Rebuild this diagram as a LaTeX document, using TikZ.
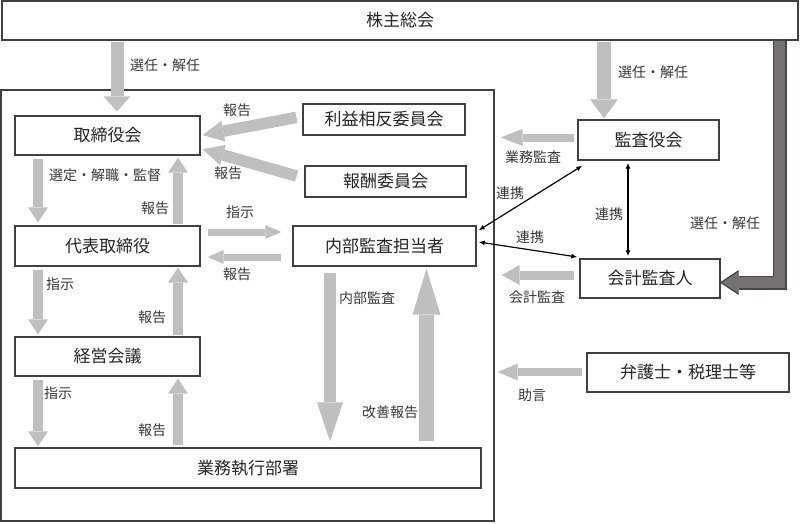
\documentclass[tikz,border=0pt]{standalone}
\usepackage{fontspec}
\setmainfont{Noto Sans CJK JP}
\usetikzlibrary{arrows.meta,calc}
\definecolor{arrg}{HTML}{BFBFBF}
\definecolor{bord}{HTML}{404040}
\definecolor{darkarr}{HTML}{767171}
\definecolor{darkline}{HTML}{4A4646}
\tikzset{
  box/.style={draw=bord, line width=1.4pt, fill=white, inner sep=0pt, font=\fontsize{17}{20}\selectfont, text=black!85},
  lbl/.style={font=\fontsize{14}{16}\selectfont, text=black!78, inner sep=0pt},
  blk/.style n args={3}{arrg, line width=#1, -{Triangle[length=#2, width=#3, line width=0pt]}},
  dbl/.style={black, line width=1.2pt, {Latex[length=6pt,width=5pt]}-{Latex[length=6pt,width=5pt]}}
}
\begin{document}
\begin{tikzpicture}[x=1pt,y=-1pt]
\useasboundingbox (0,0) rectangle (800,523);
% outer organisation box
\node[draw=bord, line width=1.4pt, minimum width=493pt, minimum height=431pt, inner sep=0pt] (org) at (247.5,305.5) {};
% boxes
\node[box, minimum width=796pt, minimum height=39pt] (sh) at (400,20.5) {株主総会};
\node[box, minimum width=185pt, minimum height=39pt] (tb) at (107.5,135.5) {取締役会};
\node[box, minimum width=162pt, minimum height=31pt] (rieki) at (384,119.5) {利益相反委員会};
\node[box, minimum width=161pt, minimum height=31pt] (hoshu) at (385.5,181.5) {報酬委員会};
\node[box, minimum width=185pt, minimum height=40pt] (daihyo) at (107.5,246) {代表取締役};
\node[box, minimum width=183pt, minimum height=40pt] (naibu) at (384.5,246) {内部監査担当者};
\node[box, minimum width=185pt, minimum height=39pt] (keiei) at (107.5,356.5) {経営会議};
\node[box, minimum width=466pt, minimum height=40pt] (gyomu) at (248,468) {業務執行部署};
\node[box, minimum width=141pt, minimum height=40pt] (kansa) at (648.5,140) {監査役会};
\node[box, minimum width=140pt, minimum height=39pt] (kaikei) at (650,278.5) {会計監査人};
\node[box, minimum width=202pt, minimum height=39pt] (bengo) at (688,372.5) {弁護士・税理士等};

% gray block arrows
\draw[blk={13pt}{15pt}{27pt}, shorten <=1pt, shorten >=4pt] (sh.south -| 117,0) -- (tb.north -| 117,0);
\draw[blk={11.5pt}{21pt}{21pt}, shorten <=6pt, shorten >=2pt] ($(rieki.west)!0.2!(rieki.north west)$) -- (tb.east);
\draw[blk={11.5pt}{21pt}{21pt}, shorten <=8pt, shorten >=2pt] ($(hoshu.west)!0.2!(hoshu.north west)$) -- ($(tb.east)!0.65!(tb.south east)$);
\draw[blk={10pt}{15pt}{20pt}, shorten <=3pt, shorten >=3pt] (tb.south -| 38,0) -- (daihyo.north -| 38,0);
\draw[blk={10pt}{15pt}{20pt}, shorten <=1pt, shorten >=2pt] (daihyo.north -| 178,0) -- (tb.south -| 178,0);
\draw[blk={10pt}{15pt}{20pt}, shorten <=3pt, shorten >=2pt] (daihyo.south -| 38,0) -- (keiei.north -| 38,0);
\draw[blk={10pt}{15pt}{20pt}, shorten <=1pt, shorten >=1pt] (keiei.north -| 178,0) -- (daihyo.south -| 178,0);
\draw[blk={10pt}{15pt}{20pt}, shorten <=3pt, shorten >=1pt] (keiei.south -| 38,0) -- (gyomu.north -| 38,0);
\draw[blk={10pt}{15pt}{20pt}, shorten <=2pt, shorten >=2pt] (gyomu.north -| 178,0) -- (keiei.south -| 178,0);
\draw[blk={7pt}{16pt}{14pt}, shorten <=7pt, shorten >=11pt] (daihyo.east |- 0,232) -- (naibu.west |- 0,232);
\draw[blk={7pt}{16pt}{14pt}, shorten <=11pt, shorten >=7pt] (naibu.west |- 0,257) -- (daihyo.east |- 0,257);
\draw[blk={12pt}{39pt}{26pt}, shorten <=6pt, shorten >=6pt] (naibu.south -| 330,0) -- (gyomu.north -| 330,0);
\draw[blk={14.5pt}{46pt}{28pt}, shorten <=6pt, shorten >=2pt] (gyomu.north -| 426.5,0) -- (naibu.south -| 426.5,0);
\draw[blk={14pt}{19pt}{28pt}, shorten <=1pt, shorten >=1pt] (sh.south -| 604,0) -- (kansa.north -| 604,0);
\draw[blk={8pt}{22pt}{17pt}, shorten <=3pt, shorten >=6pt] (kansa.west |- 0,137.5) -- (org.east |- 0,137.5);
\draw[blk={9pt}{18pt}{20pt}, shorten <=5pt, shorten >=7pt] (kaikei.west |- 0,275) -- (org.east |- 0,275);
\draw[blk={8pt}{20pt}{17pt}, shorten <=4pt, shorten >=3pt] (bengo.west |- 0,372) -- (org.east |- 0,372);

% dark arrow from shareholders to accounting auditor
\draw[darkline, line width=14pt, shorten <=0.7pt, shorten >=-1pt, -{Triangle[length=19pt, width=25pt, line width=0pt]}] (sh.south -| 779.5,0) |- (kaikei.east |- 0,282.5);
\draw[darkarr, line width=11.5pt, shorten <=0.7pt, shorten >=1.3pt, -{Triangle[length=16pt, width=20.5pt, line width=0pt]}] (sh.south -| 779.5,0) |- (kaikei.east |- 0,282.5);

% thin double arrows
\draw[dbl] ([xshift=5pt,yshift=-5pt]kansa.south west) -- ([xshift=2pt,yshift=-5pt]naibu.north east);
\draw[dbl, shorten <=2pt, shorten >=2pt] ([xshift=-20.5pt]kansa.south) -- ([xshift=-22pt]kaikei.north);
\draw[dbl] ([xshift=2pt,yshift=4pt]naibu.east) -- ([xshift=-2pt,yshift=21.5pt]kaikei.west);

% labels
\node[lbl] (l1) at (165,65) {選任・解任};
\node[lbl] (l2) at (237,110) {報告};
\node[lbl] (l3) at (228,173) {報告};
\node[lbl] (l4) at (105,175) {選定・解職・監督};
\node[lbl] (l5) at (155,208) {報告};
\node[lbl] (l6) at (240,212) {指示};
\node[lbl] (l7) at (237,274) {報告};
\node[lbl] (l8) at (60,284) {指示};
\node[lbl] (l9) at (152,317) {報告};
\node[lbl] (l10) at (367,298) {内部監査};
\node[lbl] (l11) at (58,393) {指示};
\node[lbl] (l12) at (152,430) {報告};
\node[lbl] (l13) at (390,412) {改善報告};
\node[lbl] (l14) at (653,72) {選任・解任};
\node[lbl] (l15) at (533,157) {業務監査};
\node[lbl] (l16) at (510,193) {連携};
\node[lbl] (l17) at (609,214) {連携};
\node[lbl] (l18) at (530,237) {連携};
\node[lbl] (l19) at (725,223) {選任・解任};
\node[lbl] (l20) at (537,297) {会計監査};
\node[lbl] (l21) at (532,395) {助言};
\end{tikzpicture}
\end{document}
